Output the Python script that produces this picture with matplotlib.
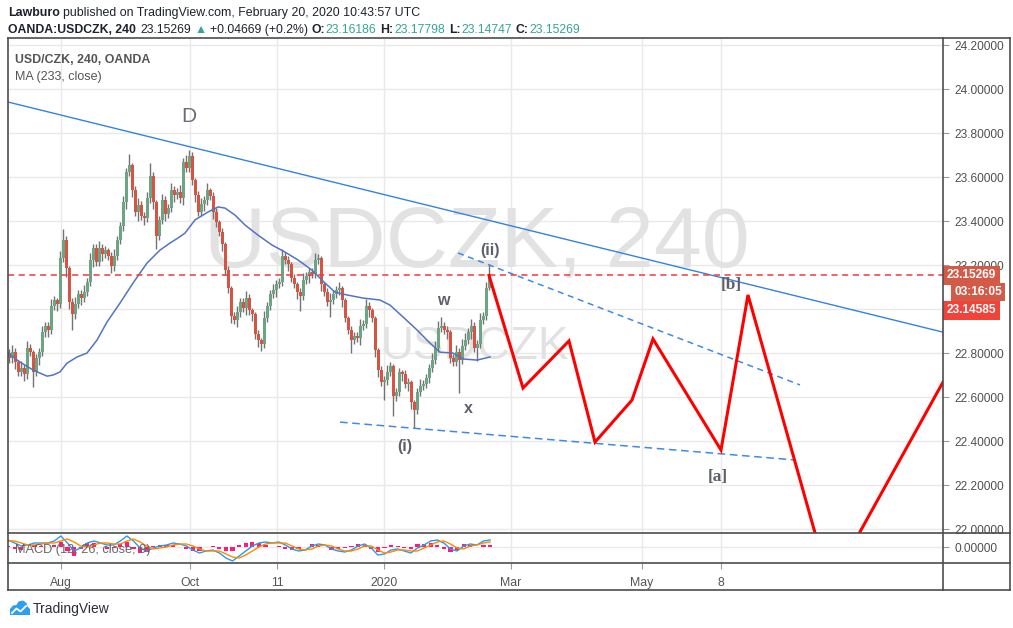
import numpy as np
import matplotlib
matplotlib.use('Agg')
import matplotlib.pyplot as plt
from matplotlib.lines import Line2D
from matplotlib.patches import Polygon
from matplotlib import font_manager as fm


def has_font(f):
    try:
        fm.findfont(fm.FontProperties(family=f), fallback_to_default=False)
        return True
    except Exception:
        return False


BASE = 'Liberation Sans' if has_font('Liberation Sans') else 'DejaVu Sans'
NARROW = 'Liberation Sans Narrow' if has_font('Liberation Sans Narrow') else BASE
plt.rcParams['font.family'] = [BASE, 'DejaVu Sans']

# ---------------- data ----------------
close = [22.777, 22.805, 22.759, 22.714, 22.732, 22.704, 22.823, 22.805, 22.714, 22.777,
         22.805, 22.895, 22.923, 22.905, 23.014, 23.041, 23.023, 23.232, 23.314, 23.186,
         23.032, 22.977, 23.023, 23.068, 23.050, 23.077, 23.123, 23.223, 23.277, 23.214,
         23.277, 23.250, 23.268, 23.241, 23.195, 23.241, 23.314, 23.377, 23.486, 23.623,
         23.655, 23.541, 23.441, 23.473, 23.423, 23.414, 23.504, 23.604, 23.486, 23.332,
         23.405, 23.495, 23.432, 23.459, 23.541, 23.518, 23.532, 23.504, 23.668, 23.641,
         23.695, 23.586, 23.518, 23.441, 23.477, 23.495, 23.541, 23.514, 23.441, 23.395,
         23.350, 23.295, 23.177, 23.095, 22.968, 22.950, 22.986, 23.032, 23.005, 23.050,
         22.995, 22.977, 22.886, 22.859, 22.841, 22.959, 23.014, 23.068, 23.086, 23.114,
         23.123, 23.241, 23.223, 23.205, 23.141, 23.114, 23.077, 23.059, 23.132, 23.150,
         23.168, 23.159, 23.223, 23.232, 23.114, 23.077, 23.032, 23.041, 23.068, 23.086,
         23.095, 23.041, 22.959, 22.905, 22.859, 22.877, 22.868, 22.923, 22.932, 23.014,
         22.995, 22.959, 22.814, 22.723, 22.668, 22.677, 22.714, 22.741, 22.604, 22.623,
         22.714, 22.704, 22.659, 22.668, 22.577, 22.541, 22.623, 22.650, 22.659, 22.686,
         22.732, 22.768, 22.823, 22.914, 22.923, 22.905, 22.895, 22.777, 22.759, 22.805,
         22.768, 22.832, 22.859, 22.895, 22.923, 22.823, 22.841, 22.950, 22.968, 23.095,
         23.15269]
first_open = 22.800
wick_up = [2, 3, 2, 1, 3, 2, 3, 2, 1, 2, 2, 3, 2, 2, 3, 2, 1, 3, 5, 2,
           1, 2, 3, 2, 2, 3, 2, 3, 2, 2, 3, 2, 2, 1, 2, 3, 2, 2, 3, 2,
           5, 1, 2, 3, 2, 2, 3, 6, 2, 1, 2, 3, 2, 2, 3, 2, 2, 3, 2, 3,
           3, 2, 1, 2, 3, 2, 3, 1, 2, 2, 1, 2, 1, 2, 1, 2, 3, 2, 2, 3,
           2, 1, 1, 2, 1, 3, 2, 2, 3, 2, 2, 3, 2, 2, 1, 2, 1, 2, 3, 2,
           2, 2, 3, 2, 1, 1, 2, 3, 2, 2, 3, 1, 1, 1, 2, 2, 2, 3, 2, 3,
           2, 1, 1, 1, 2, 2, 3, 2, 1, 2, 2, 1, 2, 2, 1, 1, 2, 3, 2, 2,
           2, 3, 3, 3, 4, 2, 2, 1, 2, 3, 2, 3, 3, 2, 3, 2, 2, 3, 2, 3, 5]
wick_dn = [2, 2, 3, 2, 2, 3, 2, 2, 7, 2, 3, 2, 2, 3, 2, 2, 3, 2, 2, 4,
           3, 7, 2, 2, 3, 2, 2, 2, 3, 2, 2, 3, 2, 2, 3, 2, 2, 2, 2, 3,
           2, 3, 2, 4, 2, 3, 2, 2, 3, 6, 2, 2, 3, 2, 2, 3, 2, 2, 3, 2,
           2, 2, 3, 2, 2, 3, 2, 2, 3, 2, 2, 3, 2, 2, 3, 2, 3, 2, 2, 3,
           2, 3, 2, 3, 3, 2, 2, 2, 2, 3, 2, 2, 2, 3, 2, 2, 3, 7, 2, 2,
           3, 2, 2, 2, 3, 2, 2, 7, 2, 2, 2, 3, 2, 2, 6, 2, 2, 3, 2, 2,
           3, 2, 3, 3, 2, 8, 2, 2, 9, 2, 2, 3, 2, 3, 3, 8, 2, 2, 2, 2,
           2, 2, 2, 2, 2, 2, 3, 2, 2, 2, 15, 2, 2, 2, 3, 2, 6, 2, 2, 2, 1]

# MA(233) (bar position, value)
ma_pos = [-0.5, 3.5, 7.83, 12.5, 14.5, 16.83, 19.17, 22.5, 25.83, 29.17, 32.5, 36.83,
          41.17, 45.83, 50.17, 53.5, 56.17, 58.5, 61.83, 66.17, 69.5, 71.83, 75.17,
          78.5, 82.83, 87.5, 91.83, 96.17, 100.83, 105.17, 108.5, 112.5, 117.83, 123.5,
          126.83, 131.17, 135.83, 140.17, 143.5, 147.83, 151.17, 155.83, 160.17]
ma_val = [22.800, 22.759, 22.723, 22.695, 22.700, 22.714, 22.754, 22.782, 22.800, 22.859,
          22.941, 23.027, 23.118, 23.209, 23.268, 23.300, 23.323, 23.345, 23.405, 23.441,
          23.464, 23.459, 23.427, 23.382, 23.336, 23.291, 23.259, 23.223, 23.177, 23.118,
          23.077, 23.064, 23.050, 23.041, 23.018, 22.964, 22.905, 22.845, 22.804, 22.800,
          22.773, 22.768, 22.782]

# MACD (12, 26, close, 9)
macd = [0.042, 0.024, 0.006, 0.012, 0.024, 0.024, 0.024, 0.036, 0.066, 0.024,
        -0.024, -0.006, 0.024, 0.036, 0.024, 0.012, 0.012, 0.036, 0.066, 0.036,
        -0.006, -0.024, -0.006, 0.006, 0.012, 0.024, 0.018, 0.006, -0.018, -0.036,
        -0.024, -0.018, -0.036, -0.066, -0.084, -0.054, -0.024, 0.006, 0.024, 0.030,
        0.024, 0.030, 0.012, -0.012, -0.024, -0.018, 0.006, 0.018, 0.012, -0.012,
        -0.024, -0.030, -0.018, 0.006, 0.018, -0.006, -0.048, -0.042, -0.018, -0.012,
        -0.024, -0.036, -0.006, 0.012, 0.036, 0.042, 0.024, -0.012, -0.024, 0.006,
        0.018, 0.012, 0.036, 0.042]
signal = [0.036, 0.036, 0.024, 0.012, 0.012, 0.018, 0.024, 0.024, 0.036, 0.048,
          0.030, 0.006, 0.000, 0.012, 0.024, 0.024, 0.018, 0.018, 0.036, 0.048,
          0.030, 0.006, -0.012, -0.006, 0.000, 0.012, 0.018, 0.018, 0.006, -0.012,
          -0.024, -0.024, -0.024, -0.042, -0.060, -0.066, -0.048, -0.024, 0.000, 0.018,
          0.024, 0.024, 0.024, 0.006, -0.012, -0.018, -0.012, 0.006, 0.012, 0.006,
          -0.012, -0.024, -0.024, -0.012, 0.006, 0.006, -0.018, -0.036, -0.030, -0.018,
          -0.018, -0.024, -0.024, -0.006, 0.012, 0.030, 0.036, 0.018, -0.006, -0.012,
          0.006, 0.012, 0.024, 0.030]

# drawn projection (red zigzag) and trend lines: (bar position, price)
proj_pos = [159.83, 171.17, 186.5, 195.17, 207.5, 214.5, 237.17, 246.17, 273.5, 311.17]
proj_val = [23.153, 22.641, 22.855, 22.395, 22.586, 22.864, 22.359, 23.064, 21.741, 22.668]
trend_pos = [-0.5, 311.17]
trend_val = [23.941, 22.895]
upper_dash_pos = [149.5, 263.5]
upper_dash_val = [23.255, 22.655]
lower_dash_pos = [110.17, 261.83]
lower_dash_val = [22.486, 22.314]

wave_labels = ['D', '(ii)', 'w', 'x', '(i)', '[b]', '[a]']
wave_pos = [59.8, 160.2, 144.5, 152.8, 131.8, 240.5, 236.2]
wave_val = [23.877, 23.264, 23.041, 22.550, 22.373, 23.109, 22.236]

last_price = 23.15269
bid_price = 23.14585
countdown = '03:16:05'

price_ticks = [22.0, 22.2, 22.4, 22.6, 22.8, 23.0, 23.2, 23.4, 23.6, 23.8, 24.0, 24.2]
hidden_ticks = [23.0]  # fully covered by the price boxes in the original
time_tick_pos = [17.17, 60.17, 89.17, 124.83, 167.17, 210.83, 237.17]
time_tick_lab = ['Aug', 'Oct', '11', '2020', 'Mar', 'May', '8']

# ---------------- figure ----------------
W, H = 1013, 628
fig = plt.figure(figsize=(W / 100, H / 100), dpi=100)
fig.patch.set_facecolor('white')


def fx(px):
    return px / W


def fy(py):
    return 1 - py / H


L, R, T, B1, B2, B3 = 8, 943, 38, 533, 563, 590
ax = fig.add_axes([fx(L), fy(B1), (R - L) / W, (B1 - T) / H])
axm = fig.add_axes([fx(L), fy(B2), (R - L) / W, (B2 - B1) / H], sharex=ax)

for a in (ax, axm):
    for s in a.spines.values():
        s.set_visible(False)
    a.set_facecolor('white')

GRID = '#e9e9e9'
TXT = '#505050'

# candles
close_a = np.array(close)
opens = np.concatenate([[first_open], close_a[:-1]])
hi = np.maximum(opens, close_a) + np.array(wick_up) * 0.01
lo = np.minimum(opens, close_a) - np.array(wick_dn) * 0.01
idx = np.arange(len(close_a))
up = close_a >= opens
cols = np.where(up, '#6ba583', '#d75442')
body_bot = np.minimum(opens, close_a)
body_h = np.maximum(np.abs(close_a - opens), 0.004)
ax.vlines(idx, lo, hi, color='#737375', lw=1.0, zorder=3)
ax.bar(idx, body_h, bottom=body_bot, width=0.8, color=cols, linewidth=0, zorder=4)

ax.plot(ma_pos, ma_val, color='#5274c4', lw=1.1, zorder=5)

# trend lines
ax.plot(trend_pos, trend_val, color='#3582e0', lw=1.0, zorder=5)
ax.plot(upper_dash_pos, upper_dash_val, color='#3f8ae2', lw=1.1, dashes=(4, 3), zorder=5)
ax.plot(lower_dash_pos, lower_dash_val, color='#3f8ae2', lw=1.1, dashes=(5, 3), zorder=5)

# projection
ax.plot(proj_pos, proj_val, color='#ff0000', lw=2.2, zorder=6, solid_joinstyle='miter')

# last price line
ax.axhline(last_price, color='#f0393c', lw=1.1, dashes=(4, 3), zorder=5)

# watermark
ax.text(0.5016, 0.582, 'USDCZK, 240', transform=ax.transAxes, fontsize=62,
        color='#e2e2e2', ha='center', va='center', zorder=1, family=[NARROW, 'DejaVu Sans'])
ax.text(0.4995, 0.376, 'USDCZK', transform=ax.transAxes, fontsize=33,
        color='#e2e2e2', ha='center', va='center', zorder=1, family=[NARROW, 'DejaVu Sans'])

# wave labels
for lab, xp, yv in zip(wave_labels, wave_pos, wave_val):
    if lab == 'D':
        ax.text(xp, yv, lab, fontsize=15, color='#6a6d78', ha='center', va='center', zorder=7)
    elif lab.startswith('['):
        ax.text(xp, yv, lab, fontsize=12.5, color='#5d606b', ha='center', va='center',
                fontweight='bold', family=['Liberation Serif', 'DejaVu Serif'], zorder=7)
    else:
        ax.text(xp, yv, lab, fontsize=11.5, color='#5d606b', ha='center', va='center',
                fontweight='bold', zorder=7)

ax.set_xlim(-0.5, 311.17)
ax.set_ylim(21.982, 24.232)
ax.set_yticks(price_ticks)
ax.set_yticklabels(['' if v in hidden_ticks else '%.5f' % v for v in price_ticks])
ax.yaxis.tick_right()
ax.tick_params(axis='y', length=4, width=0.8, color='#9a9a9a', labelsize=8.6,
               labelcolor=TXT, pad=4)
ax.set_xticks(time_tick_pos)
ax.tick_params(axis='x', length=0, labelbottom=False)
ax.grid(True, color=GRID, lw=1, zorder=0)
ax.set_axisbelow(True)

# chart title in pane
ax.text(7 / (R - L), 1 - (60 - T) / (B1 - T), 'USD/CZK, 240, OANDA', transform=ax.transAxes,
        fontsize=8.9, fontweight='bold', color='#555555', ha='left', va='center', zorder=8)
ax.text(7 / (R - L), 1 - (77 - T) / (B1 - T), 'MA (233, close)', transform=ax.transAxes,
        fontsize=9.0, color='#555555', ha='left', va='center', zorder=8)

# price boxes on the axis
ytr = ax.get_yaxis_transform()
ax.text(1 + 4 / (R - L), last_price, '%.5f' % last_price, transform=ytr, fontsize=8.6,
        fontweight='bold', color='white', ha='left', va='center', zorder=10, clip_on=False,
        bbox=dict(boxstyle='square,pad=0.32', fc='#d45a48', ec='none'))
ax.text(1 + 11 / (R - L), last_price - 17 / 220, countdown, transform=ytr, fontsize=8.6,
        fontweight='bold', color='white', ha='left', va='center', zorder=10, clip_on=False,
        bbox=dict(boxstyle='square,pad=0.25', fc='#d45a48', ec='none'))
ax.text(1 + 4 / (R - L), last_price - 35 / 220, '%.5f' % bid_price, transform=ytr,
        fontsize=8.6, fontweight='bold', color='white', ha='left', va='center', zorder=10,
        clip_on=False, bbox=dict(boxstyle='square,pad=0.32', fc='#f1433a', ec='none'))

# MACD pane
mx = np.linspace(-0.5, 160.2, len(macd))
hist = np.array(macd) - np.array(signal)
axm.bar(mx, hist, width=1.4, color='#ff1c74', linewidth=0, zorder=3)
axm.plot(mx, macd, color='#2a9af0', lw=1.0, zorder=4)
axm.plot(mx, signal, color='#ff8a00', lw=1.0, zorder=4)
axm.set_ylim(-0.096, 0.084)
axm.set_yticks([0.0])
axm.set_yticklabels(['0.00000'])
axm.yaxis.tick_right()
axm.tick_params(axis='y', length=4, width=0.8, color='#9a9a9a', labelsize=8.6,
                labelcolor=TXT, pad=4)
axm.set_xticks(time_tick_pos)
axm.set_xticklabels(time_tick_lab)
axm.tick_params(axis='x', length=4, width=0.8, color='#9a9a9a', labelsize=8.8,
                labelcolor='#555555', pad=6)
for t in axm.get_xticklabels():
    t.set_family([NARROW, 'DejaVu Sans'])
axm.grid(True, color=GRID, lw=1, zorder=0)
axm.set_axisbelow(True)
axm.text(7 / (R - L), 0.45, 'MACD (12, 26, close, 9)', transform=axm.transAxes,
         fontsize=9.2, color='#666666', ha='left', va='center', zorder=8)

# frame lines
FRAME = '#4d4d4d'
for (x0, y0, x1, y1) in [(L, T, 1010, T), (L, B3, 1010, B3), (L, T, L, B3), (1010, T, 1010, B3),
                         (R, T, R, B3), (L, B1, 1010, B1), (L, B2, 1010, B2)]:
    fig.add_artist(Line2D([fx(x0), fx(x1)], [fy(y0), fy(y1)], color=FRAME, lw=1.2,
                          transform=fig.transFigure, zorder=20))

# header
renderer = fig.canvas.get_renderer()


def seq(x_px, y_px, pieces, size=9.0):
    x = x_px
    for s, color, weight, gap in pieces:
        t = fig.text(fx(x), fy(y_px), s, color=color, fontweight=weight, fontsize=size,
                     ha='left', va='center', family=[BASE, 'DejaVu Sans'])
        x += t.get_window_extent(renderer).width + gap
    return x


DARK = '#1e222d'
TEAL = '#35a596'
seq(8, 13, [('Lawburo', DARK, 'bold', 3.5),
            ('published on TradingView.com, February 20, 2020 10:43:57 UTC', DARK, 'normal', 0)],
    size=8.9)
seq(8, 30, [('OANDA:USDCZK, 240', DARK, 'bold', 5),
            ('23.15269', DARK, 'normal', 3),
            ('\u25b2', TEAL, 'normal', 3),
            ('+0.04669 (+0.2%)', DARK, 'normal', 4),
            ('O:', DARK, 'bold', 0.5), ('23.16186', TEAL, 'normal', 4),
            ('H:', DARK, 'bold', 0.5), ('23.17798', TEAL, 'normal', 4),
            ('L:', DARK, 'bold', 0.5), ('23.14747', TEAL, 'normal', 4),
            ('C:', DARK, 'bold', 0.5), ('23.15269', TEAL, 'normal', 0)], size=8.8)

# TradingView logo
cloud = [(10, 615), (10, 609), (13, 605.5), (16.5, 605), (18.5, 601.5), (23, 600.5),
         (26.5, 603), (27.5, 606.5), (30, 609), (30, 615)]
fig.add_artist(Polygon([(fx(a), fy(b)) for a, b in cloud], closed=True, fc='#2d9ff2',
                       ec='none', transform=fig.transFigure))
fig.add_artist(Line2D([fx(12), fx(16.5), fx(20.5), fx(26)], [fy(613), fy(608.5), fy(611.5), fy(606)],
                      color='white', lw=1.3, transform=fig.transFigure))
fig.text(fx(33), fy(609), 'TradingView', fontsize=10, color='#2a2e39', ha='left', va='center',
         family=[NARROW, 'DejaVu Sans'])

fig.savefig('out.png', dpi=100, facecolor='white')
